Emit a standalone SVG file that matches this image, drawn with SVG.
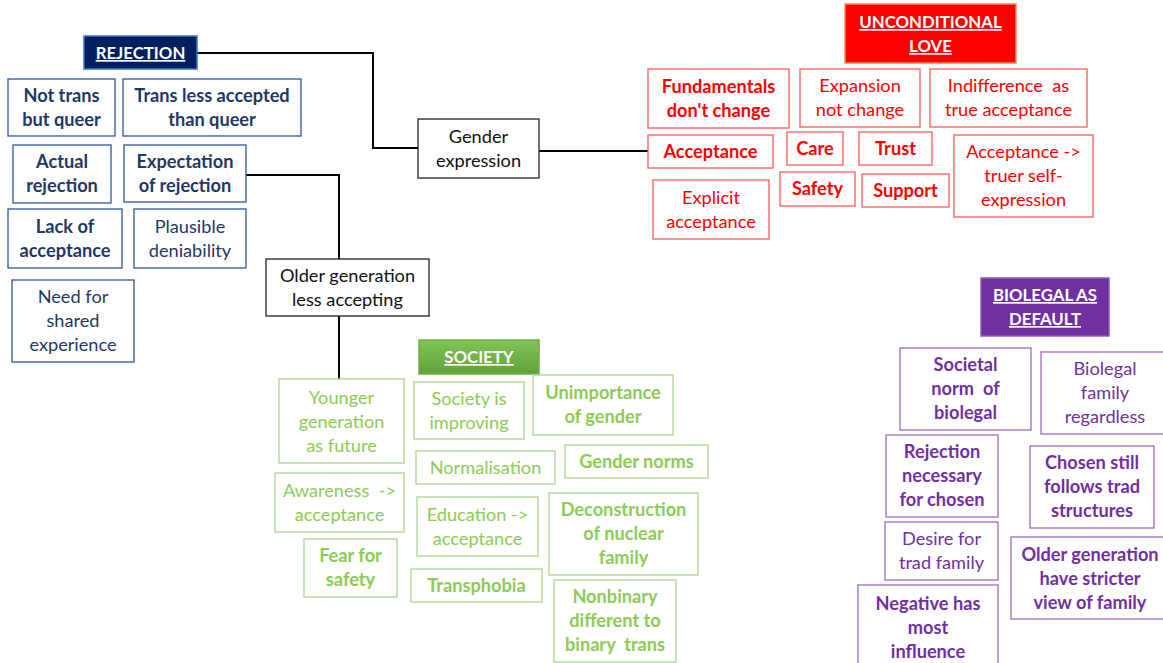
<svg xmlns="http://www.w3.org/2000/svg" width="1163" height="663" viewBox="0 0 1163 663">
<defs>
<linearGradient id="gGreen" x1="0" y1="0" x2="0" y2="1">
<stop offset="0" stop-color="#82C356"/>
<stop offset="1" stop-color="#5EA33A"/>
</linearGradient>
</defs>
<style>
text{font-family:Lato,"Liberation Sans",sans-serif;font-size:18.2px;text-anchor:middle}
.b{font-weight:bold}
.hd{fill:#fff;font-weight:bold;text-decoration:underline;font-size:16.8px}
.nv rect{fill:#fff;stroke:#2F5597;stroke-width:1.3}
.nv text{fill:#1F3864}
.bk rect{fill:#fff;stroke:#222;stroke-width:1.3}
.bk text{fill:#111}
.rd rect{fill:#fff;stroke:#FF5A5A;stroke-width:1.3}
.rd text{fill:#FF0000}
.gr rect{fill:#fff;stroke:#A9D88A;stroke-width:1.3}
.gr text{fill:#8CCB55}
.pu rect{fill:#fff;stroke:#9A6BC4;stroke-width:1.3}
.pu text{fill:#7030A0}
.conn path{fill:none;stroke:#000;stroke-width:2}
</style>
<rect width="1163" height="663" fill="#fff"/>
<g class="conn" id="connectors">
<path d="M197,53 H373 V148 H418"/>
<path d="M539,151 H648"/>
<path d="M246,175 H339 V259"/>
<path d="M339,316 V379"/>
</g>
<!-- Rejection -->
<g id="rejection"><rect x="84" y="36" width="113" height="33" fill="#002060" stroke="#4472C4" stroke-width="1.5"/><text class="hd" x="140.5" y="59">REJECTION</text></g>
<g class="nv" id="not-trans"><rect x="8" y="79" width="107" height="57"/><text class="b" x="61.5" y="102">Not trans</text><text class="b" x="61.5" y="126">but queer</text></g>
<g class="nv" id="trans-less"><rect x="123" y="79" width="178" height="57"/><text class="b" x="212" y="102">Trans less accepted</text><text class="b" x="212" y="126">than queer</text></g>
<g class="nv" id="actual"><rect x="13" y="145" width="98" height="58"/><text class="b" x="62" y="168">Actual</text><text class="b" x="62" y="192">rejection</text></g>
<g class="nv" id="expectation"><rect x="124" y="145" width="122" height="57"/><text class="b" x="185" y="168">Expectation</text><text class="b" x="185" y="192">of rejection</text></g>
<g class="nv" id="lack"><rect x="8" y="209" width="114" height="59"/><text class="b" x="65" y="233">Lack of</text><text class="b" x="65" y="257">acceptance</text></g>
<g class="nv" id="plausible"><rect x="134" y="209" width="112" height="59"/><text x="190" y="233">Plausible</text><text x="190" y="257">deniability</text></g>
<g class="nv" id="need"><rect x="12" y="280" width="122" height="82"/><text x="73" y="303">Need for</text><text x="73" y="327">shared</text><text x="73" y="351">experience</text></g>
<!-- Black -->
<g class="bk" id="older-gen"><rect x="266" y="259" width="163" height="57"/><text x="347.5" y="282">Older generation</text><text x="347.5" y="306">less accepting</text></g>
<g class="bk" id="gender-expr"><rect x="418" y="119" width="121" height="59"/><text x="478.5" y="143">Gender</text><text x="478.5" y="167">expression</text></g>
<!-- Red -->
<g id="unconditional"><rect x="845" y="4" width="171" height="59" fill="#FF0000" stroke="#F2895A" stroke-width="1.5"/><text class="hd" x="930.5" y="28">UNCONDITIONAL</text><text class="hd" x="930.5" y="52">LOVE</text></g>
<g class="rd" id="fundamentals"><rect x="648" y="69" width="141" height="59"/><text class="b" x="718.5" y="93">Fundamentals</text><text class="b" x="718.5" y="117">don't change</text></g>
<g class="rd" id="expansion"><rect x="800" y="69" width="120" height="58"/><text x="860" y="92">Expansion</text><text x="860" y="116">not change</text></g>
<g class="rd" id="indifference"><rect x="930" y="69" width="157" height="58"/><text x="1008.5" y="92" xml:space="preserve">Indifference  as</text><text x="1008.5" y="116">true acceptance</text></g>
<g class="rd" id="acceptance"><rect x="648" y="135" width="125" height="33"/><text class="b" x="710.5" y="158">Acceptance</text></g>
<g class="rd" id="care"><rect x="787" y="132" width="56" height="33"/><text class="b" x="815" y="155">Care</text></g>
<g class="rd" id="trust"><rect x="859" y="132" width="73" height="33"/><text class="b" x="895.5" y="155">Trust</text></g>
<g class="rd" id="acc-truer"><rect x="954" y="135" width="139" height="82"/><text x="1023.5" y="158">Acceptance -&gt;</text><text x="1023.5" y="182">truer self-</text><text x="1023.5" y="206">expression</text></g>
<g class="rd" id="explicit"><rect x="653" y="180" width="116" height="59"/><text x="711" y="204">Explicit</text><text x="711" y="228">acceptance</text></g>
<g class="rd" id="safety"><rect x="780" y="172" width="75" height="34"/><text class="b" x="817.5" y="195">Safety</text></g>
<g class="rd" id="support"><rect x="862" y="174" width="87" height="33"/><text class="b" x="905.5" y="197">Support</text></g>
<!-- Green -->
<g id="society"><rect x="419" y="340" width="120" height="34" fill="url(#gGreen)" stroke="#70AD47" stroke-width="1.5"/><text class="hd" x="479" y="363">SOCIETY</text></g>
<g class="gr" id="younger"><rect x="279" y="379" width="125" height="84"/><text x="341.5" y="404">Younger</text><text x="341.5" y="428">generation</text><text x="341.5" y="452">as future</text></g>
<g class="gr" id="society-improving"><rect x="414" y="382" width="110" height="57"/><text x="469" y="405">Society is</text><text x="469" y="429">improving</text></g>
<g class="gr" id="unimportance"><rect x="533" y="375" width="140" height="60"/><text class="b" x="603" y="399">Unimportance</text><text class="b" x="603" y="423">of gender</text></g>
<g class="gr" id="normalisation"><rect x="416" y="451" width="139" height="33"/><text x="485.5" y="474">Normalisation</text></g>
<g class="gr" id="gender-norms"><rect x="565" y="445" width="143" height="33"/><text class="b" x="636.5" y="468">Gender norms</text></g>
<g class="gr" id="awareness"><rect x="275" y="473" width="129" height="59"/><text x="339.5" y="497" xml:space="preserve">Awareness  -&gt;</text><text x="339.5" y="521">acceptance</text></g>
<g class="gr" id="education"><rect x="417" y="497" width="121" height="59"/><text x="477.5" y="521">Education -&gt;</text><text x="477.5" y="545">acceptance</text></g>
<g class="gr" id="deconstruction"><rect x="549" y="493" width="149" height="82"/><text class="b" x="623.5" y="516">Deconstruction</text><text class="b" x="623.5" y="540">of nuclear</text><text class="b" x="623.5" y="564">family</text></g>
<g class="gr" id="fear"><rect x="304" y="539" width="93" height="58"/><text class="b" x="350.5" y="562">Fear for</text><text class="b" x="350.5" y="586">safety</text></g>
<g class="gr" id="transphobia"><rect x="411" y="569" width="131" height="33"/><text class="b" x="476.5" y="592">Transphobia</text></g>
<g class="gr" id="nonbinary"><rect x="554" y="580" width="122" height="82"/><text class="b" x="615" y="603">Nonbinary</text><text class="b" x="615" y="627">different to</text><text class="b" x="615" y="651" xml:space="preserve">binary  trans</text></g>
<!-- Purple -->
<g id="biolegal"><rect x="981" y="278" width="128" height="58" fill="#7030A0" stroke="#8E5BBF" stroke-width="1.5"/><text class="hd" x="1045" y="301">BIOLEGAL AS</text><text class="hd" x="1045" y="325">DEFAULT</text></g>
<g class="pu" id="societal"><rect x="900" y="348" width="131" height="82"/><text class="b" x="965.5" y="371">Societal</text><text class="b" x="965.5" y="395" xml:space="preserve">norm  of</text><text class="b" x="965.5" y="419">biolegal</text></g>
<g class="pu" id="biolegal-family"><rect x="1041" y="352" width="125" height="82"/><text x="1105" y="375">Biolegal</text><text x="1105" y="399">family</text><text x="1105" y="423">regardless</text></g>
<g class="pu" id="rejection-nec"><rect x="886" y="435" width="112" height="82"/><text class="b" x="942" y="458">Rejection</text><text class="b" x="942" y="482">necessary</text><text class="b" x="942" y="506">for chosen</text></g>
<g class="pu" id="chosen"><rect x="1030" y="446" width="124" height="82"/><text class="b" x="1092" y="469">Chosen still</text><text class="b" x="1092" y="493">follows trad</text><text class="b" x="1092" y="517">structures</text></g>
<g class="pu" id="desire"><rect x="885" y="522" width="113" height="58"/><text x="941.5" y="545">Desire for</text><text x="941.5" y="569">trad family</text></g>
<g class="pu" id="older-stricter"><rect x="1011" y="537" width="155" height="82"/><text class="b" x="1090" y="561">Older generation</text><text class="b" x="1090" y="585">have stricter</text><text class="b" x="1090" y="609">view of family</text></g>
<g class="pu" id="negative"><rect x="858" y="585" width="140" height="82"/><text class="b" x="928" y="610">Negative has</text><text class="b" x="928" y="634">most</text><text class="b" x="928" y="658">influence</text></g>
</svg>
